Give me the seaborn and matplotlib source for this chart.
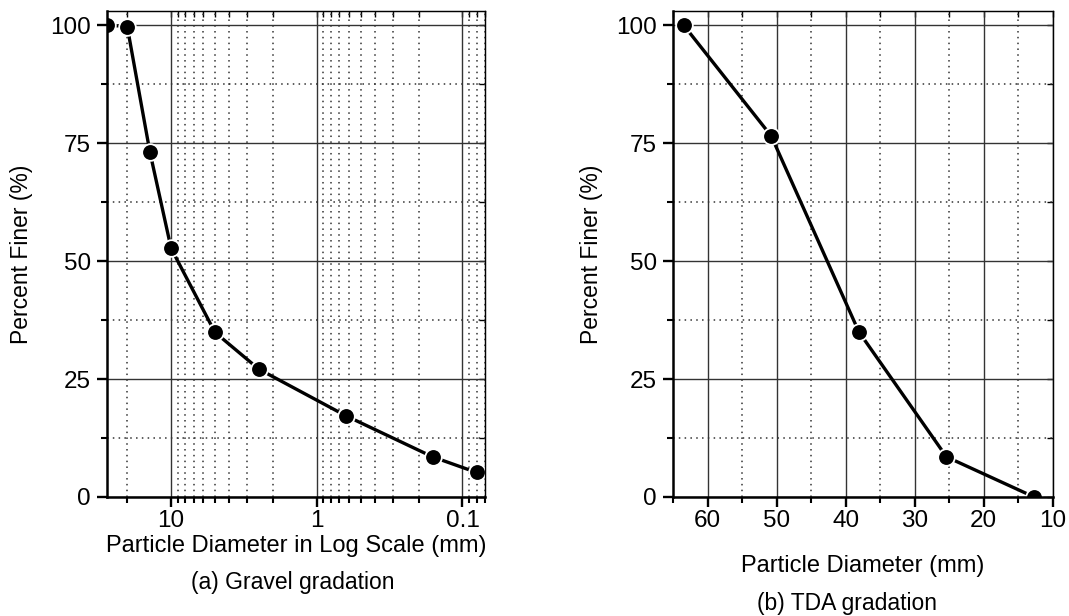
import numpy as np
import pandas as pd
import matplotlib
matplotlib.use("Agg")
import matplotlib.pyplot as plt
import matplotlib.ticker as mticker
import seaborn as sns

# ---- data ----
gravel_size_mm = [27.4, 20, 14, 10, 5, 2.5, 0.63, 0.16, 0.08]
gravel_finer = [100, 99.7, 73.2, 52.7, 34.9, 27.1, 17.2, 8.5, 5.2]
tda_size_mm = [63.5, 50.8, 38.1, 25.4, 12.7]
tda_finer = [100, 76.5, 35.0, 8.5, 0]
y_ticks = [0, 25, 50, 75, 100]
gravel_xticks = [10, 1, 0.1]
gravel_xticklabels = ["10", "1", "0.1"]
tda_xticks = [60, 50, 40, 30, 20, 10]

sns.set_theme(style="white")
plt.rcParams["font.family"] = ["Liberation Sans", "DejaVu Sans"]

FS = 17
TFS = 17.5
fig = plt.figure(figsize=(10.69, 6.16), dpi=100)
axL = fig.add_axes([0.1004, 0.1932, 0.3533, 0.789])
axR = fig.add_axes([0.6298, 0.1932, 0.3550, 0.789])

gravel = pd.DataFrame({"size": gravel_size_mm, "finer": gravel_finer})
tda = pd.DataFrame({"size": tda_size_mm, "finer": tda_finer})

line_kw = dict(color="black", marker="o", markersize=12, linewidth=2.4,
               markeredgecolor="white", markeredgewidth=1.3, errorbar=None)

axL.set_xscale("log")
sns.lineplot(data=gravel, x="size", y="finer", ax=axL, **line_kw)
sns.lineplot(data=tda, x="size", y="finer", ax=axR, **line_kw)

major_grid = dict(color="#333333", linewidth=1.0, linestyle="-")
minor_grid = dict(color="#333333", linewidth=1.1, linestyle=(0, (1, 2.8)))

def style_common(ax):
    ax.set_ylim(0, 103)
    ax.set_yticks(y_ticks)
    ax.yaxis.set_minor_locator(mticker.MultipleLocator(12.5))
    ax.set_axisbelow(True)
    ax.grid(True, which="major", **major_grid)
    ax.grid(True, which="minor", **minor_grid)
    for s in ["left", "bottom"]:
        ax.spines[s].set_linewidth(1.8)
        ax.spines[s].set_color("black")
    for s in ["top", "right"]:
        ax.spines[s].set_linewidth(0.9)
        ax.spines[s].set_color("black")
    ax.tick_params(which="major", direction="out", length=7.2, width=1.7,
                   color="black", labelsize=TFS, pad=4.5, labelcolor="black",
                   bottom=True, left=True, top=False, right=False)
    ax.tick_params(axis="x", which="major", pad=2.5)
    ax.tick_params(which="minor", direction="out", length=4.3, width=1.5,
                   color="black", bottom=True, left=True, top=False, right=False)
    ax.set_ylabel("Percent Finer (%)", fontsize=FS - 0.5, color="black")

# ---- left: gravel ----
axL.set_xlim(27.4, 0.07)
axL.xaxis.set_major_locator(mticker.FixedLocator(gravel_xticks))
axL.xaxis.set_major_formatter(mticker.FixedFormatter(gravel_xticklabels))
axL.xaxis.set_minor_locator(mticker.LogLocator(base=10, subs=np.arange(2, 10), numticks=20))
axL.xaxis.set_minor_formatter(mticker.NullFormatter())
style_common(axL)
axL.set_xlabel("Particle Diameter in Log Scale (mm)", fontsize=FS, color="black")

# ---- right: TDA ----
axR.set_xlim(65, 10)
axR.set_xticks(tda_xticks)
axR.xaxis.set_minor_locator(mticker.MultipleLocator(5))
style_common(axR)
axR.set_xlabel("Particle Diameter (mm)", fontsize=FS, color="black")

# inward mirror ticks on top/right
for ax, is_log in [(axL, True), (axR, False)]:
    top = ax.secondary_xaxis("top")
    if is_log:
        top.xaxis.set_major_locator(mticker.FixedLocator(gravel_xticks))
        top.xaxis.set_minor_locator(mticker.LogLocator(base=10, subs=np.arange(2, 10), numticks=20))
    else:
        top.set_xticks(tda_xticks)
        top.xaxis.set_minor_locator(mticker.MultipleLocator(5))
    top.tick_params(which="both", direction="in", length=4.2, width=1.0,
                    color="black", labeltop=False, labelbottom=False)
    top.spines["top"].set_linewidth(0.9)
    right = ax.secondary_yaxis("right")
    right.set_yticks(y_ticks)
    right.yaxis.set_minor_locator(mticker.MultipleLocator(12.5))
    right.tick_params(which="both", direction="in", length=4.6, width=1.0,
                      color="black", labelright=False, labelleft=False)
    right.spines["right"].set_linewidth(0.9)

# label positions
axL.yaxis.set_label_coords(-0.197, 0.5)
axR.yaxis.set_label_coords(-0.185, 0.5)
axL.xaxis.set_label_coords(0.5, -0.079)
axR.xaxis.set_label_coords(0.5, -0.12)

fig.text(0.274, 0.055, "(a) Gravel gradation", ha="center", va="center",
         fontsize=FS - 0.5, color="black")
fig.text(0.792, 0.021, "(b) TDA gradation", ha="center", va="center",
         fontsize=FS - 0.5, color="black")

fig.savefig("out.png", dpi=100, facecolor="white")
